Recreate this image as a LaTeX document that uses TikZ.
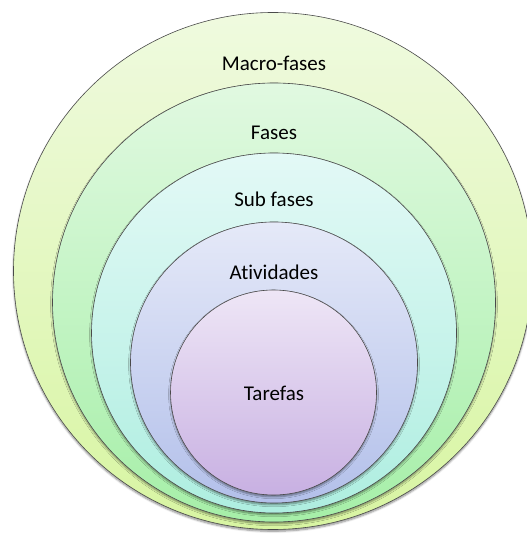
\documentclass[tikz,border=0pt]{standalone}
\usepackage{fontspec}
\setmainfont{Carlito}[Ligatures={NoCommon}]
\usetikzlibrary{shadows.blur,shapes.geometric}
\definecolor{outT}{HTML}{EFFADF}\definecolor{outB}{HTML}{D8F5A2}
\definecolor{fasT}{HTML}{E1F9E1}\definecolor{fasB}{HTML}{A6EFA8}
\definecolor{subT}{HTML}{E3F9F6}\definecolor{subB}{HTML}{AEEEE0}
\definecolor{atvT}{HTML}{E5E9F8}\definecolor{atvB}{HTML}{B3C0EA}
\definecolor{tarT}{HTML}{EEE6F6}\definecolor{tarB}{HTML}{C8B0E2}
\definecolor{ringline}{HTML}{4A4A4A}
\tikzset{
  ring/.style={ellipse, inner sep=0pt, draw=ringline, line width=0.6pt,
    blur shadow={shadow xshift=0pt, shadow yshift=-1.8pt, shadow blur steps=6, shadow opacity=45}},
  lbl/.style={anchor=base, font=\fontsize{21}{25}\selectfont, text=black, inner sep=0pt}
}
\begin{document}
\begin{tikzpicture}[x=1pt,y=-1pt]
\useasboundingbox (0,0) rectangle (526,534);
\node[ring, minimum width=519pt, minimum height=517pt, top color=outT, bottom color=outB] (macro) at (273,271) {};
\node[ring, minimum width=443pt, minimum height=439pt, top color=fasT, bottom color=fasB] (fases) at (274,302.5) {};
\node[ring, minimum width=365pt, minimum height=360pt, top color=subT, bottom color=subB] (sub) at (274,333) {};
\node[ring, minimum width=287pt, minimum height=281pt, top color=atvT, bottom color=atvB] (ativ) at (274,362.5) {};
\node[ring, minimum width=206pt, minimum height=205pt, top color=tarT, bottom color=tarB] (tar) at (273.5,392.5) {};
\node[lbl] (tmacro) at (274,71) {Macro-fases};
\node[lbl] (tfases) at (274,140) {Fases};
\node[lbl] (tsub) at (274,206.5) {Sub fases};
\node[lbl] (tativ) at (274,279) {Atividades};
\node[lbl] (ttar) at (274,400) {Tarefas};
\end{tikzpicture}
\end{document}
